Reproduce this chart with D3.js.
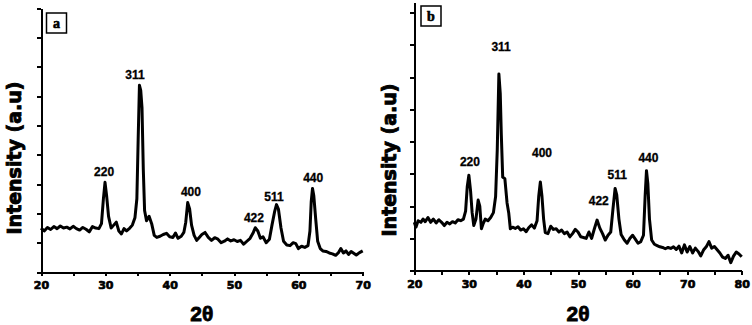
<!DOCTYPE html>
<html>
<head>
<meta charset='UTF-8' />
<title>XRD patterns a and b</title>
<style>
	body { margin: 0; background: #ffffff; }
	.axis path, .axis line { fill: none; stroke: #000; stroke-width: 2px; shape-rendering: crispEdges; }
	.axis text { font-family: 'DejaVu Sans', sans-serif; font-weight: bold; font-size: 11px; fill: #000; stroke: #000; stroke-width: 0.7px; }
	.trace { fill: none; stroke: #000; stroke-width: 3px; stroke-linejoin: round; }
	.peak { font-family: 'Liberation Sans', Arial, sans-serif; font-weight: bold; font-size: 12px; stroke: #000; stroke-width: 0.3px; }
	.ylab { font-family: 'DejaVu Sans', sans-serif; font-weight: bold; font-size: 19px; stroke: #000; stroke-width: 0.9px; }
	.xlab { font-family: 'Liberation Sans', Arial, sans-serif; font-weight: bold; font-size: 21px; stroke: #000; stroke-width: 0.8px; }
	.tag { font-family: 'Liberation Serif', serif; font-weight: bold; font-size: 14px; stroke: #000; stroke-width: 0.6px; }
</style>
</head>
<body>
<script src='https://d3js.org/d3.v7.min.js'></script>
<script>
'use strict';

// panel a: 2theta and intensity (a.u.)
const tthA = [20, 20.5, 21, 21.5, 22, 22.5, 23, 23.5, 24, 24.5, 25, 25.5, 26, 26.5, 27, 27.5, 28, 28.5, 29, 29.4,
	29.7, 29.95, 30.2, 30.5, 30.9, 31.3, 31.7, 32.1, 32.5, 32.9, 33.3, 33.8, 34.2, 34.6, 34.9, 35.1, 35.3, 35.5, 35.7, 35.9,
	36.1, 36.4, 36.8, 37.2, 37.6, 38, 38.5, 39, 39.5, 40, 40.5, 40.9, 41.3, 41.8, 42.2, 42.5, 42.8, 43.1, 43.4, 43.8,
	44.2, 44.6, 45, 45.5, 46, 46.5, 47, 47.5, 48, 48.5, 49, 49.5, 50, 50.5, 51, 51.5, 52, 52.5, 53, 53.3,
	53.7, 54.1, 54.5, 55, 55.5, 55.9, 56.3, 56.6, 56.9, 57.3, 57.7, 58.2, 58.7, 59.2, 59.6, 60, 60.5, 61, 61.5, 61.8,
	62, 62.2, 62.4, 62.7, 63, 63.4, 63.8, 64.3, 64.8, 65.3, 65.8, 66.2, 66.6, 67, 67.4, 67.8, 68.2, 68.6, 69, 69.5, 70];
const intA = [150, 140, 152, 145, 155, 148, 157, 150, 153, 147, 156, 148, 143, 152, 146, 137, 155, 150, 148, 165,
	250, 306, 260, 190, 150, 160, 170, 140, 130, 148, 140, 150, 160, 185, 250, 450, 637, 620, 560, 350,
	210, 175, 190, 165, 125, 118, 122, 128, 132, 120, 118, 133, 115, 122, 135, 170, 237, 215, 160, 125,
	108, 118, 128, 135, 118, 108, 117, 112, 100, 105, 113, 106, 110, 104, 108, 95, 105, 115, 135, 151,
	140, 115, 120, 100, 112, 160, 205, 230, 215, 150, 105, 92, 90, 100, 97, 80, 88, 84, 90, 140,
	240, 285, 260, 180, 105, 80, 72, 70, 65, 62, 57, 65, 80, 65, 72, 60, 70, 64, 58, 66, 72];

// panel b
const tthB = [20, 20.3, 20.7, 21.2, 21.6, 22, 22.5, 23, 23.5, 24, 24.5, 25, 25.5, 26, 26.5, 27, 27.5, 28, 28.5, 29,
	29.4, 29.7, 30, 30.3, 30.6, 30.9, 31.3, 31.7, 32, 32.3, 32.6, 33, 33.5, 34, 34.5, 34.9, 35.2, 35.5, 35.75, 35.95,
	36.2, 36.6, 37, 37.3, 37.6, 38, 38.5, 39, 39.5, 40, 40.5, 41, 41.5, 42, 42.5, 42.8, 43.1, 43.4, 43.7, 44,
	44.5, 45, 45.5, 46, 46.5, 47, 47.5, 48, 48.5, 49, 49.5, 50, 50.5, 51, 51.5, 52, 52.5, 53, 53.5, 54,
	54.5, 55, 55.5, 56, 56.4, 56.8, 57.1, 57.5, 57.9, 58.5, 59, 59.5, 60, 60.5, 61, 61.5, 62, 62.3, 62.55, 62.8,
	63.1, 63.5, 64, 64.5, 65, 65.5, 66, 66.5, 67, 67.5, 68, 68.5, 69, 69.5, 70, 70.5, 71, 71.5, 72, 72.5,
	73, 73.5, 74, 74.5, 75, 75.5, 76, 76.5, 77, 77.5, 78, 78.5, 79, 79.5, 80];
const intB = [150, 135, 155, 150, 160, 152, 165, 150, 160, 148, 158, 150, 140, 150, 145, 152, 148, 158, 155, 160,
	185, 260, 296, 250, 180, 140, 160, 219, 200, 130, 145, 160, 155, 165, 180, 230, 373, 610, 550, 420,
	290, 285, 210, 180, 130, 135, 131, 136, 126, 130, 121, 134, 142, 132, 155, 230, 275, 230, 160, 118,
	115, 138, 128, 130, 120, 126, 115, 120, 105, 115, 128, 120, 105, 103, 100, 120, 100, 130, 157, 132,
	115, 95, 110, 120, 190, 255, 235, 160, 112, 95, 85, 100, 110, 98, 85, 90, 110, 230, 310, 270,
	160, 95, 82, 78, 74, 72, 68, 72, 69, 74, 66, 76, 55, 80, 58, 75, 55, 70, 60, 46,
	64, 74, 90, 70, 75, 65, 55, 42, 38, 48, 25, 45, 58, 52, 43];

// peak labels (hkl), placed at [2theta, intensity]
const hkl = ['220', '311', '400', '422', '511', '440'];
const hklPosA = [[29.8, 341], [34.6, 672], [43.3, 273], [53.1, 184], [56.2, 256], [62.3, 320]];
const hklPosB = [[30.2, 338], [35.9, 695], [43.4, 365], [53.8, 217], [57.2, 297], [62.9, 348]];

const svg = d3.select('body').append('svg')
	.attr('width', 752)
	.attr('height', 325);

function panel(opt) {
	const x = d3.scaleLinear().domain([20, opt.xMax]).range([opt.left, opt.right]);
	const y = d3.scaleLinear().domain([0, opt.yMax]).range([opt.bottom, opt.top]);
	const g = svg.append('g');

	// minor ticks every 5
	g.append('g')
		.attr('class', 'axis')
		.attr('transform', 'translate(0,' + opt.bottom + ')')
		.call(d3.axisBottom(x).tickValues(d3.range(25, opt.xMax, 10)).tickSize(4).tickSizeOuter(0).tickFormat(''));
	g.append('g')
		.attr('class', 'axis')
		.attr('transform', 'translate(0,' + opt.bottom + ')')
		.call(d3.axisBottom(x).tickValues(d3.range(20, opt.xMax + 1, 10)).tickSize(4).tickSizeOuter(0).tickPadding(5))
		.selectAll('text').attr('dy', '0.75em');

	g.append('g')
		.attr('class', 'axis')
		.attr('transform', 'translate(' + opt.left + ',0)')
		.call(d3.axisLeft(y).tickValues(d3.range(0, opt.yMax + 1, 100)).tickSize(4).tickSizeOuter(0).tickFormat(''));

	const line = d3.line()
		.x(function(d) { return x(d[0]); })
		.y(function(d) { return y(d[1]); });
	g.append('path')
		.attr('class', 'trace')
		.attr('d', line(d3.zip(opt.tth, opt.val)));

	g.selectAll('text.peak')
		.data(opt.peaks)
		.enter().append('text')
		.attr('class', 'peak')
		.attr('x', function(d) { return x(d[0]); })
		.attr('y', function(d) { return y(d[1]); })
		.attr('text-anchor', 'middle')
		.attr('dominant-baseline', 'central')
		.text(function(d, i) { return hkl[i]; });

	// panel tag box
	g.append('rect')
		.attr('x', opt.tag[0]).attr('y', opt.tag[1])
		.attr('width', 20).attr('height', 20)
		.attr('fill', 'none').attr('stroke', '#000').attr('stroke-width', 1.5);
	g.append('text')
		.attr('class', 'tag')
		.attr('x', opt.tag[0] + 10).attr('y', opt.tag[1] + 15)
		.attr('text-anchor', 'middle')
		.text(opt.name);

	g.append('text')
		.attr('class', 'xlab')
		.attr('x', (opt.left + opt.right) / 2)
		.attr('y', 321)
		.attr('text-anchor', 'middle')
		.text('2θ');

	g.append('text')
		.attr('class', 'ylab')
		.attr('transform', 'translate(' + opt.ylabX + ',' + opt.ylabY + ') rotate(-90)')
		.attr('text-anchor', 'middle')
		.attr('dominant-baseline', 'central')
		.text('Intensity (a.u)');
}

panel({ name: 'a', xMax: 70, yMax: 900, left: 41, right: 362.7, top: 8.3, bottom: 272,
	tth: tthA, val: intA, peaks: hklPosA, tag: [46.5, 13], ylabX: 14, ylabY: 158 });
panel({ name: 'b', xMax: 80, yMax: 833, left: 414.3, right: 741.7, top: 2, bottom: 270.7,
	tth: tthB, val: intB, peaks: hklPosB, tag: [421, 6], ylabX: 389, ylabY: 160 });
</script>
</body>
</html>
